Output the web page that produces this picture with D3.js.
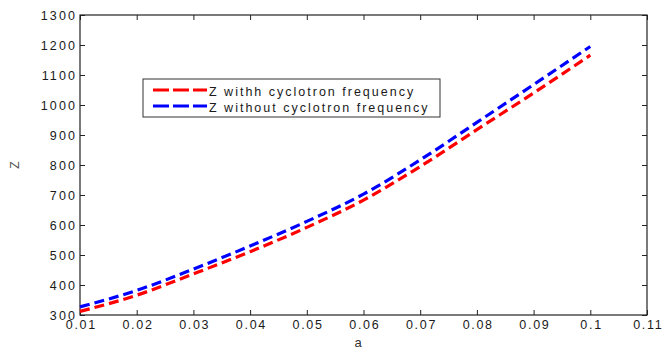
<!DOCTYPE html>
<head>
	<meta charset="UTF-8">
	<script src="https://d3js.org/d3.v7.min.js"></script>
	<title>Z vs a</title>
<style>
	body{ margin: 0; background-color: white; }
	text{ font-family: 'Liberation Sans', Arial, sans-serif; }
</style>
</head>

<body>
	<svg width=662 height=351></svg>
</body>

<script>
	// Data
	var aValues = [0.01, 0.02, 0.03, 0.04, 0.05, 0.06, 0.07, 0.08, 0.09, 0.1];
	var zWith = [312, 366, 437, 511, 592, 683, 795, 918, 1040, 1166];
	var zWithout = [327, 382, 453, 530, 612, 703, 817, 942, 1068, 1195];
	var xTicks = [0.01, 0.02, 0.03, 0.04, 0.05, 0.06, 0.07, 0.08, 0.09, 0.1, 0.11];
	var yTicks = [300, 400, 500, 600, 700, 800, 900, 1000, 1100, 1200, 1300];
	var seriesNames = ["Z withh cyclotron frequency", "Z without cyclotron frequency"];
	var seriesColors = ["#ff0000", "#0000ff"];

	// plot box (note: "top" is taken by window.top, so use other names)
	var plotLeft = 80, plotTop = 15, plotRight = 647, plotBottom = 315;

	var svg = d3.select("svg");

	var x = d3.scaleLinear().domain([0.01, 0.11]).range([plotLeft, plotRight]);
	var y = d3.scaleLinear().domain([300, 1300]).range([plotBottom, plotTop]);

	// Axes (MATLAB style: ticks pointing in, box on all sides)
	var fmtX = function(d){ return String(+d.toFixed(2)); };
	var fmtY = d3.format("d");

	var xAxis = svg.append("g")
		.attr("transform", "translate(0," + plotBottom + ")")
		.call(d3.axisBottom(x).tickValues(xTicks).tickSizeInner(-5).tickSizeOuter(0).tickPadding(5).tickFormat(fmtX))
		.call(g => g.select(".domain").remove());

	svg.append("g")
		.attr("transform", "translate(0," + plotTop + ")")
		.call(d3.axisTop(x).tickValues(xTicks).tickSizeInner(-5).tickSizeOuter(0).tickFormat(""))
		.call(g => g.select(".domain").remove());

	var yAxis = svg.append("g")
		.attr("transform", "translate(" + plotLeft + ",0)")
		.call(d3.axisLeft(y).tickValues(yTicks).tickSizeInner(-5).tickSizeOuter(0).tickPadding(3).tickFormat(fmtY))
		.call(g => g.select(".domain").remove());

	svg.append("g")
		.attr("transform", "translate(" + plotRight + ",0)")
		.call(d3.axisRight(y).tickValues(yTicks).tickSizeInner(-5).tickSizeOuter(0).tickFormat(""))
		.call(g => g.select(".domain").remove());

	svg.selectAll(".tick line").attr("stroke", "#222");
	svg.selectAll(".tick text")
		.attr("fill", "#1a1a1a")
		.style("font-size", "12.5px")
		.style("letter-spacing", "2.1px");
	// x labels a touch tighter so 0.11 stays inside the picture
	xAxis.selectAll(".tick text")
		.style("letter-spacing", "1.7px")
		.attr("dx", "0.8px");

	// Frame
	svg.append("rect")
		.attr("x", plotLeft).attr("y", plotTop)
		.attr("width", plotRight - plotLeft).attr("height", plotBottom - plotTop)
		.attr("fill", "none")
		.attr("stroke", "#222")
		.attr("stroke-width", 1.2);

	// Lines
	var line = d3.line()
		.x(function(d){ return x(d[0]); })
		.y(function(d){ return y(d[1]); })
		.curve(d3.curveMonotoneX);

	[zWith, zWithout].forEach(function(vals, i){
		svg.append("path")
			.datum(aValues.map(function(a, j){ return [a, vals[j]]; }))
			.attr("fill", "none")
			.attr("stroke", seriesColors[i])
			.attr("stroke-width", 3.2)
			.attr("stroke-dasharray", "10,5")
			.attr("d", line);
	});

	// Axis labels
	svg.append("text")
		.attr("x", 358).attr("y", 347)
		.attr("text-anchor", "middle")
		.attr("fill", "#333")
		.style("font-size", "13px")
		.text("a");

	svg.append("text")
		.attr("transform", "translate(19,165) rotate(-90)")
		.attr("text-anchor", "middle")
		.attr("fill", "#555")
		.style("font-size", "12px")
		.text("Z");

	// Legend
	var legend = svg.append("g");
	legend.append("rect")
		.attr("x", 143).attr("y", 79)
		.attr("width", 297).attr("height", 38)
		.attr("fill", "white")
		.attr("stroke", "#333")
		.attr("stroke-width", 1);

	seriesNames.forEach(function(name, i){
		var ly = 90 + i * 16;
		legend.append("line")
			.attr("x1", 153).attr("x2", 207)
			.attr("y1", ly).attr("y2", ly)
			.attr("stroke", seriesColors[i])
			.attr("stroke-width", 3.2)
			.attr("stroke-dasharray", "16,4");
		legend.append("text")
			.attr("x", 209).attr("y", ly + 5.5)
			.attr("fill", "#1a1a1a")
			.style("font-size", "12.5px")
			.style("letter-spacing", "2px")
			.text(name);
	});
</script>
